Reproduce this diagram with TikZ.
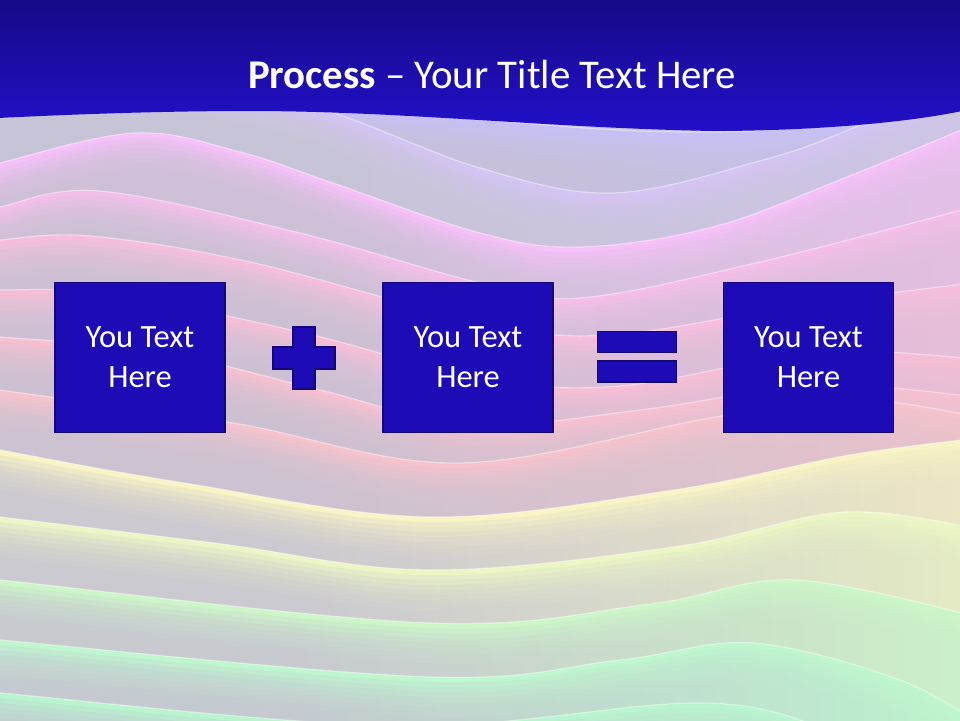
\documentclass[tikz,border=0pt]{standalone}
\usepackage{fontspec}
\setmainfont{Carlito}
\definecolor{graybase}{RGB}{200,196,212}
\definecolor{barTop}{RGB}{22,10,134}
\definecolor{barBot}{RGB}{34,16,200}
\definecolor{boxfill}{RGB}{29,11,182}
\definecolor{boxedge}{RGB}{20,8,120}
\definecolor{sheetZ}{RGB}{198,192,246}
\definecolor{sheetA}{RGB}{212,196,244}
\definecolor{sheetB}{RGB}{246,192,248}
\definecolor{sheetC}{RGB}{244,190,234}
\definecolor{sheetD}{RGB}{246,190,220}
\definecolor{sheetE}{RGB}{246,190,212}
\definecolor{sheetF}{RGB}{246,192,208}
\definecolor{sheetG}{RGB}{246,194,204}
\definecolor{sheetH}{RGB}{248,244,196}
\definecolor{sheetI}{RGB}{236,246,196}
\definecolor{sheetJ}{RGB}{204,246,200}
\definecolor{sheetK}{RGB}{190,246,206}
\definecolor{sheetL}{RGB}{184,244,206}
\colorlet{sheetcol}{graybase}
\colorlet{sheetmix}{graybase}
\pgfdeclarehorizontalshading[sheetmix]{sheetshade}{100bp}{color(0bp)=(graybase); color(42bp)=(graybase); color(75bp)=(sheetmix); color(100bp)=(sheetmix)}
\def\cvZ{plot[smooth,tension=.6] coordinates {(-20,113) (180,109) (400,114) (600,129) (713,132) (800,128) (900,120) (980,106)}}
\def\cvA{plot[smooth,tension=.6] coordinates {(-20,60) (200,82) (333,113) (480,168) (613,193) (763,160) (853,128) (980,70)}}
\def\cvB{plot[smooth,tension=.6] coordinates {(-20,170) (0,163) (135,133) (240,152) (330,182) (480,233) (580,247) (713,227) (847,177) (980,122)}}
\def\cvC{plot[smooth,tension=.6] coordinates {(-20,212) (0,207) (100,191) (300,233) (480,283) (580,298) (760,262) (980,205)}}
\def\cvD{plot[smooth,tension=.6] coordinates {(-20,244) (0,240) (90,236) (250,262) (480,322) (610,335) (800,305) (980,282)}}
\def\cvE{plot[smooth,tension=.6] coordinates {(-20,292) (0,290) (110,294) (300,332) (480,378) (620,386) (820,352) (980,360)}}
\def\cvF{plot[smooth,tension=.6] coordinates {(-20,336) (0,337) (160,352) (320,390) (470,425) (640,410) (820,385) (980,398)}}
\def\cvG{plot[smooth,tension=.6] coordinates {(-20,386) (0,390) (233,423) (459,463) (716,417) (860,400) (980,418)}}
\def\cvH{plot[smooth,tension=.6] coordinates {(-20,444) (0,450) (184,483) (429,517) (674,490) (850,455) (980,438)}}
\def\cvI{plot[smooth,tension=.6] coordinates {(-20,514) (0,517) (214,543) (429,570) (674,547) (845,512) (980,530)}}
\def\cvJ{plot[smooth,tension=.6] coordinates {(-20,577) (0,580) (429,623) (650,604) (796,580) (980,618)}}
\def\cvK{plot[smooth,tension=.6] coordinates {(-20,637) (0,640) (429,677) (620,660) (753,643) (900,680) (980,725)}}
\def\cvL{plot[smooth,tension=.6] coordinates {(-20,690) (0,693) (400,726) (704,703) (850,735) (980,760)}}
\begin{document}
\begin{tikzpicture}[x=1pt,y=-1pt,
  box/.style={draw=boxedge, line width=1.5pt, fill=boxfill, minimum width=170pt, minimum height=150pt, inner sep=0pt, text=white, align=center, font=\fontsize{32.5}{40}\selectfont},
  eqbar/.style={draw=boxedge, line width=1.5pt, fill=boxfill, minimum width=79pt, minimum height=21pt, inner sep=0pt},
  symb/.style={draw=boxedge, line width=1.5pt, fill=boxfill},
  titletext/.style={text=white, font=\fontsize{40.8}{48}\selectfont, inner sep=0pt}]
\useasboundingbox (0,0) rectangle (960,720);
\clip (0,0) rectangle (960,720);
\fill[graybase] (0,0) rectangle (960,720);
% wavy background sheets
\foreach \cv/\col/\mx in {\cvZ/sheetZ/55,\cvA/sheetA/55,\cvB/sheetB/60,\cvC/sheetC/60,\cvD/sheetD/65,\cvE/sheetE/70,\cvF/sheetF/70,\cvG/sheetG/70,\cvH/sheetH/75,\cvI/sheetI/80,\cvJ/sheetJ/90,\cvK/sheetK/95,\cvL/sheetL/95}{
  \colorlet{sheetcol}{\col}
  \colorlet{sheetmix}{\col!\mx!graybase}
  \fill[sheetcol] \cv -- (980,900) -- (-20,900) -- cycle;
  \foreach \d in {5,10,...,40}{
    \shade[shading=sheetshade, opacity=0.21, yshift=-\d pt] \cv -- (980,900) -- (-20,900) -- cycle;
  }
  \draw[sheetcol!30!white, opacity=.6, line width=1.2pt] \cv;
}
% title bar
\shade[top color=barTop, bottom color=barBot] (-2,-2) -- (962,-2) -- (962,111)
  .. controls (900,124) and (800,131) .. (713,131)
  .. controls (550,128) and (400,111) .. (250,111)
  .. controls (180,111) and (100,113) .. (-2,118) -- cycle;
\node[titletext, anchor=base] (title) at (492,88) {\textbf{Process} -- Your Title Text Here};
% boxes
\node[box] (box1) at (140,357.5) {You Text\\Here};
\node[box] (box2) at (468,357.5) {You Text\\Here};
\node[box] (box3) at (808.5,357.5) {You Text\\Here};
% plus
\draw[symb] (293,327) -- (315,327) -- (315,347) -- (335,347) -- (335,369) -- (315,369) -- (315,389) -- (293,389) -- (293,369) -- (273,369) -- (273,347) -- (293,347) -- cycle;
% equals
\node[eqbar] (eqtop) at (637,342) {};
\node[eqbar] (eqbot) at (637,371.5) {};
\end{tikzpicture}
\end{document}
